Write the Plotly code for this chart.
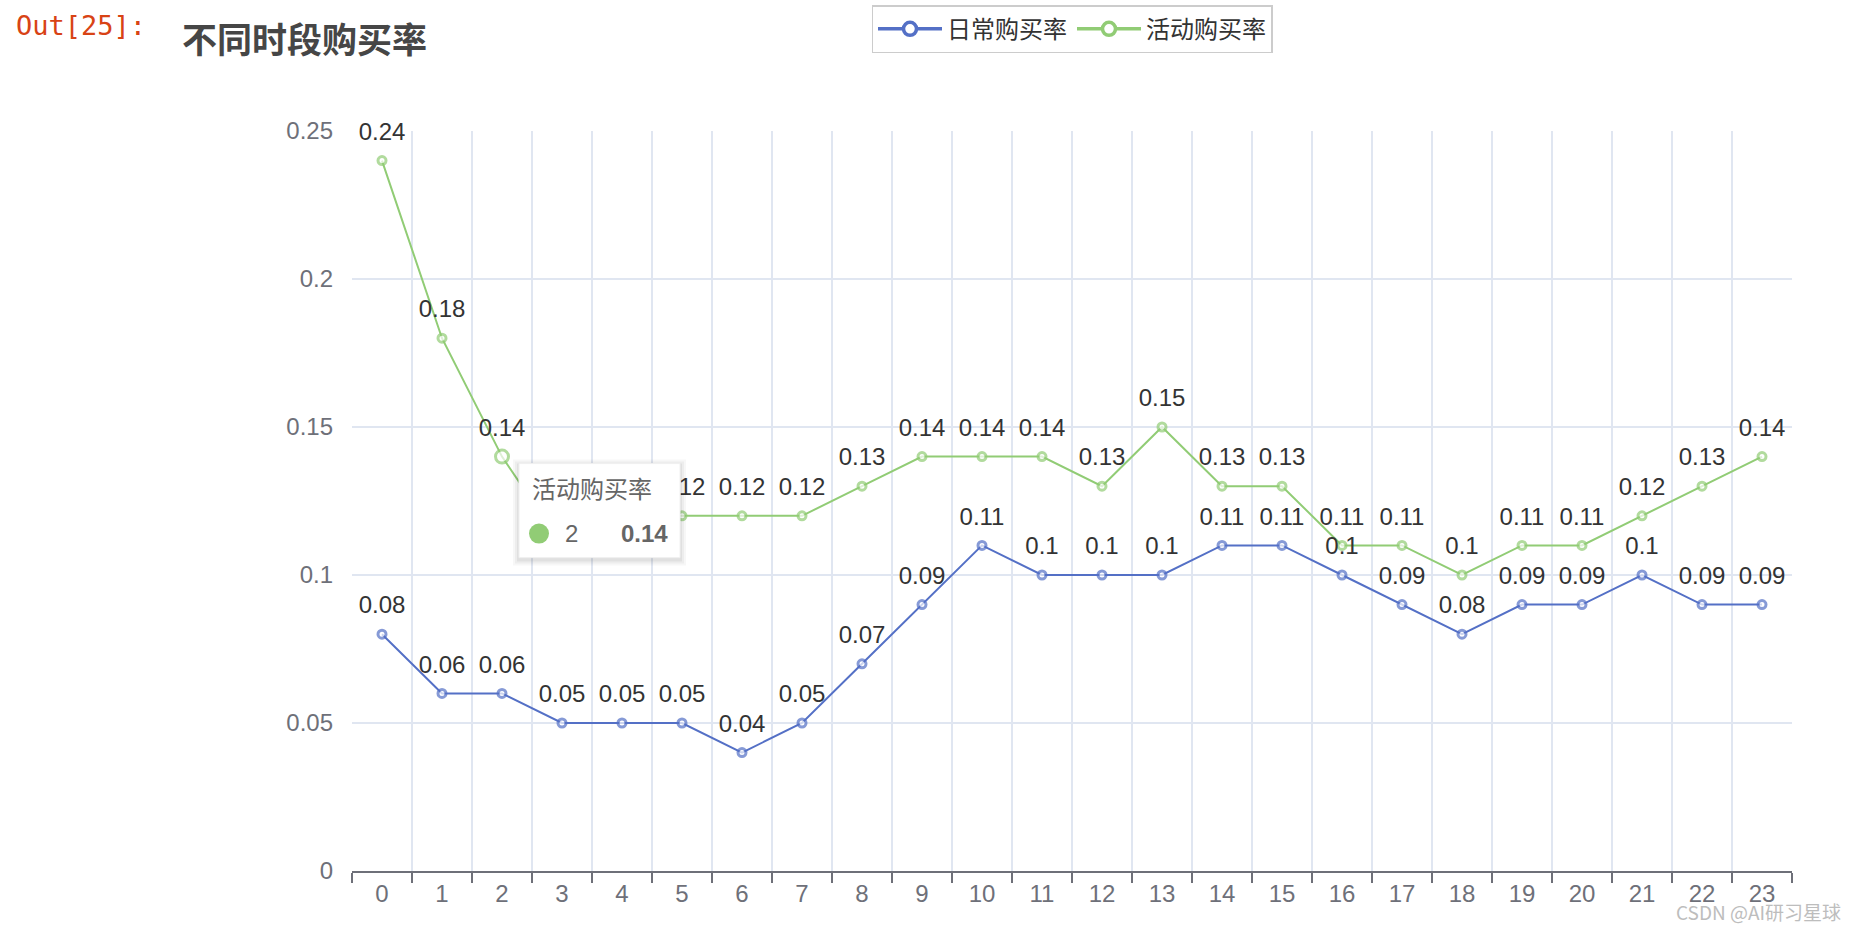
import plotly.graph_objects as go

hours = [str(h) for h in range(24)]
daily_rate = [0.08, 0.06, 0.06, 0.05, 0.05, 0.05, 0.04, 0.05, 0.07, 0.09, 0.11, 0.10,
              0.10, 0.10, 0.11, 0.11, 0.10, 0.09, 0.08, 0.09, 0.09, 0.10, 0.09, 0.09]
promo_rate = [0.24, 0.18, 0.14, 0.11, 0.12, 0.12, 0.12, 0.12, 0.13, 0.14, 0.14, 0.14,
              0.13, 0.15, 0.13, 0.13, 0.11, 0.11, 0.10, 0.11, 0.11, 0.12, 0.13, 0.14]
series_names = ["日常购买率", "活动购买率"]
title_text = "不同时段购买率"
hovered_idx = 2

BLUE = "#5470c6"
GREEN = "#91cc75"
FONT = "Liberation Sans, Noto Sans CJK SC, sans-serif"
CJK = "Noto Sans CJK SC, Liberation Sans, sans-serif"

fig = go.Figure()

def fmt(v):
    return f"{v:g}"

series = [(series_names[0], daily_rate, BLUE, None),
          (series_names[1], promo_rate, GREEN, hovered_idx)]

for name, vals, col, big in series:
    sizes = [8] * len(vals)
    if big is not None:
        sizes[big] = 13
    fig.add_trace(go.Scatter(
        x=hours, y=vals, name=name, mode="lines+markers", showlegend=False,
        line=dict(color=col, width=2),
        marker=dict(symbol="circle", size=sizes, color="white",
                    line=dict(color=col, width=3)),
        hoverinfo="skip", cliponaxis=False,
    ))

# value labels (drawn above all lines), offset upward via invisible markers
for vals in [daily_rate, promo_rate]:
    fig.add_trace(go.Scatter(
        x=hours, y=vals, mode="markers+text", text=[fmt(v) for v in vals],
        textposition="top center", showlegend=False, hoverinfo="skip",
        marker=dict(size=22, opacity=0), cliponaxis=False,
        textfont=dict(size=24, color="#333333", family=FONT),
    ))

# legend entries
for name, vals, col, big in series:
    fig.add_trace(go.Scatter(
        x=[None], y=[None], name=name, mode="lines+markers",
        line=dict(color=col, width=3.5),
        marker=dict(symbol="circle", size=13, color="white", line=dict(color=col, width=3.5)),
    ))

# tooltip box (anchored to hovered point)
tx, ty = hours[hovered_idx], promo_rate[hovered_idx]
for i, op in enumerate([0.03, 0.04, 0.05]):
    pad = 6 - 2 * i
    fig.add_shape(type="rect", xref="x", yref="y", xsizemode="pixel", ysizemode="pixel",
                  xanchor=tx, yanchor=ty, x0=17 - pad, x1=178 + pad, y0=-101 - pad - 2, y1=-7 + pad - 2,
                  fillcolor=f"rgba(0,0,0,{op})", line=dict(width=0), layer="above")
fig.add_shape(type="rect", xref="x", yref="y", xsizemode="pixel", ysizemode="pixel",
              xanchor=tx, yanchor=ty, x0=17, x1=178, y0=-101, y1=-7,
              fillcolor="white", line=dict(color="#f0f0f0", width=1), layer="above")
fig.add_shape(type="circle", xref="x", yref="y", xsizemode="pixel", ysizemode="pixel",
              xanchor=tx, yanchor=ty, x0=27, x1=47, y0=-87, y1=-67,
              fillcolor=GREEN, line=dict(width=0), layer="above")

anns = [
    dict(text=series_names[1], xshift=28, yshift=-31, xanchor="left",
         font=dict(size=24, color="#666666", family=CJK)),
    dict(text=str(hovered_idx), xshift=61, yshift=-77, xanchor="left",
         font=dict(size=24, color="#666666", family=FONT)),
    dict(text="<b>" + fmt(ty) + "</b>", xshift=168, yshift=-77, xanchor="right",
         font=dict(size=24, color="#666666", family=FONT)),
]
for a in anns:
    fig.add_annotation(x=tx, y=ty, xref="x", yref="y", showarrow=False, yanchor="middle", **a)

# title and notebook prompt
fig.add_annotation(text="<b>" + title_text + "</b>", xref="paper", yref="paper", x=0, y=1,
                   xshift=-172, yshift=94, xanchor="left", yanchor="middle", showarrow=False,
                   font=dict(size=35, color="#464646", family=CJK))
fig.add_annotation(text="Out[25]:", xref="paper", yref="paper", x=0, y=1,
                   xshift=-338, yshift=106, xanchor="left", yanchor="middle", showarrow=False,
                   font=dict(size=27, color="#D84315", family="DejaVu Sans Mono, monospace"))
fig.add_annotation(text="CSDN @AI研习星球", xref="paper", yref="paper", x=1, y=0,
                   xshift=51, yshift=-40, xanchor="right", yanchor="middle", showarrow=False,
                   font=dict(size=19, color="#bdbdbd", family=CJK))

fig.update_layout(
    width=1860, height=930,
    margin=dict(l=352, r=68, t=131, b=59, autoexpand=False),
    paper_bgcolor="white", plot_bgcolor="white",
    hovermode=False,
    legend=dict(orientation="h", x=0.5, xanchor="center", y=1.17, yanchor="top",
                bordercolor="#cccccc", borderwidth=1.5, bgcolor="white",
                font=dict(size=24, color="#333333", family=CJK),
                itemwidth=64),
    xaxis=dict(type="category", categoryorder="array", categoryarray=hours,
               range=[-0.5, 23.5], tickson="boundaries", ticks="outside", ticklen=10,
               tickwidth=2, tickcolor="#6E7079", showline=True, linecolor="#6E7079",
               linewidth=2, showgrid=True, gridcolor="#E0E6F1", gridwidth=1.5,
               tickfont=dict(size=24, color="#6E7079", family=FONT), zeroline=False),
    yaxis=dict(range=[0, 0.25], dtick=0.05, tick0=0, showgrid=True, gridcolor="#E0E6F1",
               gridwidth=1.5, zeroline=False, showline=False, ticks="",
               ticklabelstandoff=18,
               tickfont=dict(size=24, color="#6E7079", family=FONT)),
)

fig.write_html("out.html")
